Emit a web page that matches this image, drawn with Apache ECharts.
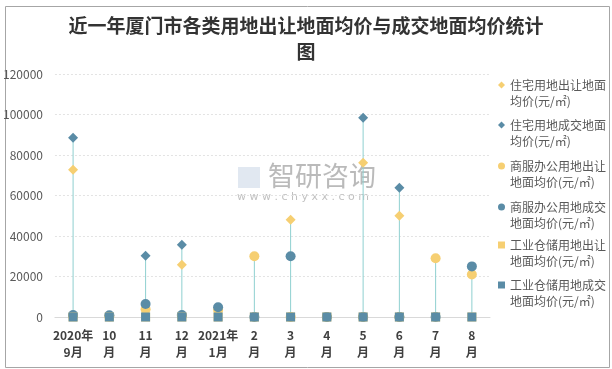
<!DOCTYPE html>
<html><head><meta charset="utf-8">
<script src="https://cdn.jsdelivr.net/npm/echarts@6/dist/echarts.min.js"></script>
<style>html,body{margin:0;padding:0;background:#fff}#c{width:612px;height:369px}</style>
</head><body><div id="c"></div>
<script>
const categories = ["2020年\n9月","10\n月","11\n月","12\n月","2021年\n1月","2\n月","3\n月","4\n月","5\n月","6\n月","7\n月","8\n月"];
const seriesNames = ["住宅用地出让地面均价(元/㎡)","住宅用地成交地面均价(元/㎡)","商服办公用地出让地面均价(元/㎡)","商服办公用地成交地面均价(元/㎡)","工业仓储用地出让地面均价(元/㎡)","工业仓储用地成交地面均价(元/㎡)"];
const resTransfer = [72700, null, null, 25800, null, null, 48000, null, 76200, 50000, null, null];
const resDeal     = [88500, null, 30200, 35700, null, null, null, null, 98400, 63800, null, null];
const comTransfer = [500, 300, 3800, 500, 3500, 30000, 0, 0, 0, 0, 29000, 21000];
const comDeal     = [1000, 900, 6400, 1000, 4800, 0, 30000, 0, 0, 0, 0, 25000];
const indTransfer = [0, 0, 0, 0, 0, 0, 0, 0, 0, 0, 0, 0];
const indDeal     = [0, 0, 0, 0, 0, 0, 0, 0, 0, 0, 0, 0];
const yTicks = [0, 20000, 40000, 60000, 80000, 100000, 120000];

const YEL = '#f6cf72', BLU = '#5a8ca6', DROP = '#8fd0d0';
const allSeries = [resTransfer, resDeal, comTransfer, comDeal, indTransfer, indDeal];
const dropData = categories.map((c, i) => Math.max(...allSeries.map(s => s[i] == null ? 0 : s[i])));
const symbols = ['diamond','diamond','circle','circle','rect','rect'];
const colors = [YEL, BLU, YEL, BLU, YEL, BLU];
const sizes = [10, 10, 10, 10, 9, 9];
const wrapName = n => ' \n' + n.slice(0, 8) + '\n' + n.slice(8);
const legendTops = [61, 101, 142, 183, 221, 261];

const chart = echarts.init(document.getElementById('c'));
chart.setOption({
  animation: false,
  title: {
    text: '近一年厦门市各类用地出让地面均价与成交地面均价统计\n图',
    left: 'center', top: 8,
    textStyle: { fontFamily: 'Noto Sans CJK SC', fontSize: 19, fontWeight: 'bold', color: '#333', lineHeight: 26 }
  },
  graphic: [
    { type: 'rect', left: 3, top: 4, shape: { width: 604, height: 361 }, style: { fill: 'none', stroke: '#a6a6a6', lineWidth: 1 }, silent: true },
    { type: 'text', left: 268, top: 162, style: { text: '智研咨询', font: '27px "Noto Sans CJK SC"', fill: 'rgba(130,130,130,0.55)' }, silent: true, z: 0 },
    { type: 'text', left: 237, top: 192, style: { text: 'w w w . c h y x x . c o m', font: '11px "DejaVu Sans"', fill: 'rgba(150,150,150,0.6)' }, silent: true, z: 0 },
    { type: 'rect', left: 238, top: 167, shape: { width: 22, height: 21 }, style: { fill: 'rgba(170,190,215,0.35)' }, silent: true, z: 0 }
  ],
  legend: seriesNames.map((n, i) => ({
    orient: 'vertical', left: 498, top: legendTops[i], padding: 0,
    itemWidth: 7, itemHeight: 7,
    data: [{ name: n, icon: symbols[i] }],
    formatter: wrapName,
    textStyle: { fontFamily: 'Noto Sans CJK SC', fontSize: 12, color: '#595959', lineHeight: 16 }
  })),
  grid: { left: 54, right: 122, top: 74, bottom: 52 },
  xAxis: {
    type: 'category', data: categories,
    axisLine: { lineStyle: { color: '#d9d9d9' } },
    axisTick: { show: false },
    axisLabel: { interval: 0, margin: 10, fontFamily: 'Noto Sans CJK SC', fontSize: 12, fontWeight: 'bold', color: '#404040', lineHeight: 17 }
  },
  yAxis: {
    type: 'value', min: yTicks[0], max: yTicks[yTicks.length - 1], interval: yTicks[1] - yTicks[0],
    axisLine: { show: false }, axisTick: { show: false },
    axisLabel: { margin: 12, fontFamily: 'Noto Sans CJK SC', fontSize: 12, color: '#595959', formatter: v => String(v) },
    splitLine: { lineStyle: { color: '#e3e3e3', type: [2, 2] } }
  },
  series: [
    { type: 'bar', name: 'drop', data: dropData, barWidth: 1, itemStyle: { color: DROP }, silent: true, z: 1 }
  ].concat(allSeries.map((d, i) => ({
    type: 'scatter', name: seriesNames[i], data: d, symbol: symbols[i], symbolSize: sizes[i],
    itemStyle: { color: colors[i], opacity: 1 }, z: 2 + i
  })))
});
</script></body></html>
